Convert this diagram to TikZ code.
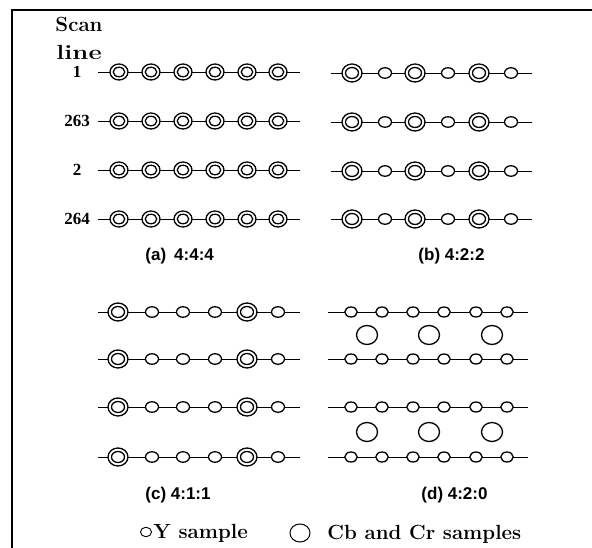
\documentclass[tikz,border=0pt]{standalone}
\usepackage{fontspec}
\usetikzlibrary{shapes.geometric}
\newfontfamily\capfont{Liberation Sans}
\newfontfamily\numfont{Liberation Serif}
\begin{document}
\begin{tikzpicture}[x=1pt,y=-1pt,line width=0.9pt,
  ell/.style={ellipse,draw,fill=white,inner sep=0pt,line width=1.3pt},
  outA/.style={ell,minimum width=18pt,minimum height=16pt},
  inA/.style={ell,minimum width=11.5pt,minimum height=9.5pt},
  outB/.style={ell,minimum width=20pt,minimum height=18pt},
  inB/.style={ell,minimum width=13pt,minimum height=11pt},
  smallc/.style={ell,minimum width=13pt,minimum height=10.5pt},
  smalld/.style={ell,minimum width=12.5pt,minimum height=10pt},
  bigd/.style={ell,minimum width=21pt,minimum height=19pt},
  rowlab/.style={font=\numfont\bfseries\fontsize{17}{17}\selectfont,anchor=base,inner sep=0pt},
  caplab/.style={font=\capfont\bfseries\fontsize{17}{17}\selectfont,anchor=base west,inner sep=0pt},
  bigtext/.style={font=\bfseries\fontsize{20.5}{22}\selectfont,anchor=base west,inner sep=0pt}]
\useasboundingbox (0,0) rectangle (592,548);
% frame
\coordinate (fTL) at (12,10);
\coordinate (fTR) at (592,10);
\coordinate (fBL) at (12,548);
\draw[line width=1.2pt] (fTR) -- (fTL) -- (fBL);
% heading
\node[bigtext] (scan) at (55,32) {Scan};
\node[bigtext] (line) at (56,60) {\scalebox{1.25}[1]{line}};
% row labels
\node[rowlab] (r1) at (77,78) {1};
\node[rowlab] (r2) at (77,127) {263};
\node[rowlab] (r3) at (77,176) {2};
\node[rowlab] (r4) at (77,225) {264};
% (a) 4:4:4
\foreach \r/\y in {1/72,2/121,3/170,4/219}{
  \coordinate (aL\r) at (98,\y); \coordinate (aR\r) at (300,\y);
  \draw (aL\r) -- (aR\r);
  \foreach \i/\x in {1/119,2/151,3/183,4/215,5/247,6/278}{
    \node[outA] (ao\r\i) at (\x,\y) {};
    \node[inA] (ai\r\i) at (ao\r\i) {};
  }
}
% (b) 4:2:2
\foreach \r/\y in {1/73,2/122,3/171,4/219}{
  \coordinate (bL\r) at (331,\y); \coordinate (bR\r) at (532,\y);
  \draw (bL\r) -- (bR\r);
  \foreach \i/\x in {1/352,3/415,5/479}{
    \node[outB] (bo\r\i) at (\x,\y) {};
    \node[inB] (bi\r\i) at (bo\r\i) {};
  }
  \foreach \i/\x in {2/385,4/448,6/511}{
    \node[smallc] (bs\r\i) at (\x,\y) {};
  }
}
% (c) 4:1:1
\foreach \r/\y in {1/312,2/359,3/407,4/457}{
  \coordinate (cL\r) at (98,\y); \coordinate (cR\r) at (300,\y);
  \draw (cL\r) -- (cR\r);
  \foreach \i/\x in {1/118,5/247}{
    \node[outB] (co\r\i) at (\x,\y) {};
    \node[inB] (ci\r\i) at (co\r\i) {};
  }
  \foreach \i/\x in {2/152,3/183,4/215,6/278}{
    \node[smallc] (cs\r\i) at (\x,\y) {};
  }
}
% (d) 4:2:0
\foreach \r/\y in {1/312,2/359,3/407,4/457}{
  \coordinate (dL\r) at (328,\y); \coordinate (dR\r) at (528,\y);
  \draw (dL\r) -- (dR\r);
  \foreach \i/\x in {1/351,2/382,3/413,4/444,5/476,6/507}{
    \node[smalld] (ds\r\i) at (\x,\y) {};
  }
}
\foreach \k/\y in {1/335,2/432}{
  \foreach \i/\x in {1/367,2/429,3/492}{
    \node[bigd] (db\k\i) at (\x,\y) {};
  }
}
% captions
\node[caplab] (capa) at (145,261) {(a)\hspace{8pt}4:4:4};
\node[caplab] (capb) at (418,261) {(b) 4:2:2};
\node[caplab] (capc) at (145,499) {(c) 4:1:1};
\node[caplab] (capd) at (421,499) {(d) 4:2:0};
% legend
\node[ell,minimum width=11pt,minimum height=9.5pt,line width=0.9pt] (ly) at (146,532) {};
\node[bigtext] (lyt) at (153,538) {Y sample};
\node[ell,minimum width=20pt,minimum height=18pt,line width=1pt] (lc) at (300,533) {};
\node[bigtext] (lct) at (327,539) {Cb and Cr samples};
\end{tikzpicture}
\end{document}
